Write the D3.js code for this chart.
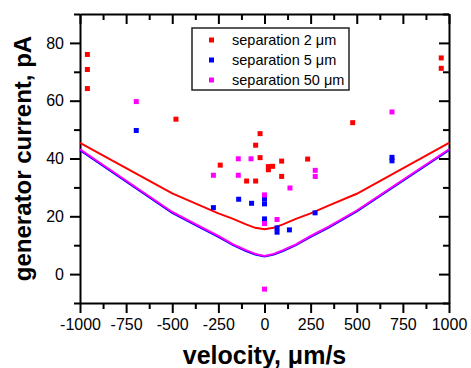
<!DOCTYPE html>
<html>
<head>
<meta charset="utf-8">
<script src="https://cdn.jsdelivr.net/npm/d3@7"></script>
<style>
  body { margin: 0; background: #fff; }
  svg { display: block; font-family: "Liberation Sans", Arial, sans-serif; }
  .axis path, .axis line { stroke: #000; stroke-width: 2px; }
  .axis text { font-size: 16px; fill: #000; }
</style>
</head>
<body>
<svg id="chart" width="471" height="368"></svg>
<script>
// scatter data: [velocity um/s, current pA]
const sep2 = [
  [-960, 76.0], [-960, 70.8], [-960, 64.2], [-480, 53.6], [-240, 37.7],
  [-97, 32.2], [-48, 44.6], [-48, 32.2], [-24, 48.6], [-24, 40.3],
  [21, 37.2], [21, 36.1], [44, 37.3], [93, 39.1], [93, 33.8],
  [234, 39.8], [478, 52.4], [958, 74.8], [958, 71.2]
];
const sep5 = [
  [-695, 49.7], [-277, 23.0], [-140, 25.9], [-70, 24.5], [0, 26.0],
  [0, 24.3], [0, 19.1], [68, 16.0], [68, 14.5], [135, 15.3],
  [274, 21.2], [691, 40.4], [691, 39.2]
];
const sep50 = [
  [-695, 59.7], [-277, 34.2], [-142, 39.9], [-142, 34.2], [-73, 39.9],
  [0, 27.4], [0, 17.5], [0, -5.2], [68, 18.9], [138, 29.8],
  [275, 35.9], [275, 33.8], [691, 56.1]
];

// model curves
const curveV = [-1000, -500, -350, -250, -170, -100, -50, 0, 50, 100, 170, 250, 350, 500, 1000];
const curve2 = [45.4, 27.9, 23.8, 21.0, 19.1, 17.2, 16.0, 15.5, 16.0, 17.2, 19.1, 21.0, 23.8, 27.8, 45.4];
const curve5 = [42.9, 21.2, 16.2, 12.9, 10.0, 8.0, 6.8, 6.1, 6.8, 8.0, 10.0, 12.9, 16.2, 21.7, 42.9];
const curve50 = [43.2, 21.5, 16.5, 13.2, 10.3, 8.3, 7.0, 6.3, 7.0, 8.3, 10.3, 13.2, 16.5, 22.0, 43.2];

const xMajor = [-1000, -750, -500, -250, 0, 250, 500, 750, 1000];
const xMinor = [-875, -625, -375, -125, 125, 375, 625, 875];
const yMajor = [0, 20, 40, 60, 80];
const yMinor = [-10, 10, 30, 50, 70, 90];

const legendItems = [
  { label: "separation 2 \u03bcm", color: "#ff0000" },
  { label: "separation 5 \u03bcm", color: "#0000ff" },
  { label: "separation 50 \u03bcm", color: "#ff00ff" }
];

const margin = { top: 14, right: 22, bottom: 65, left: 80 };
const width = 471, height = 368;
const w = width - margin.left - margin.right;
const h = height - margin.top - margin.bottom;

const svg = d3.select("#chart");
const g = svg.append("g").attr("transform", "translate(" + margin.left + "," + margin.top + ")");

const x = d3.scaleLinear().domain([-1000, 1000]).range([0, w]);
const y = d3.scaleLinear().domain([-10, 90]).range([h, 0]);

// axes: major + minor on all four sides, labels only bottom/left
function addAxis(axisFn, transform, major, minor, labels, inner) {
  const sign = inner ? -1 : 1;
  g.append("g").attr("class", "axis").attr("transform", transform)
    .call(axisFn(major === "x" ? x : y).tickValues(minor).tickSize(6 * sign).tickFormat(""))
    .call(a => a.select(".domain").remove());
  const ax = g.append("g").attr("class", "axis").attr("transform", transform)
    .call(axisFn(major === "x" ? x : y)
      .tickValues(major === "x" ? xMajor : yMajor)
      .tickSize(10 * sign).tickSizeOuter(0)
      .tickPadding(labels ? 6 : 0)
      .tickFormat(labels ? d3.format("d") : ""));
  ax.selectAll("text").text(d => labels ? String(d).replace("\u2212", "-") : "");
  return ax;
}
addAxis(d3.axisBottom, "translate(0," + h + ")", "x", xMinor, true, false);
addAxis(d3.axisTop, "translate(0,0)", "x", xMinor, false, true);
addAxis(d3.axisLeft, "translate(0,0)", "y", yMinor, true, false);
addAxis(d3.axisRight, "translate(" + w + ",0)", "y", yMinor, false, true);

// lines
const line = d3.line().x(d => x(d[0])).y(d => y(d[1]));
[[curve5, "#0000ff"], [curve50, "#ff00ff"], [curve2, "#ff0000"]].forEach(([vals, color]) => {
  g.append("path")
    .datum(curveV.map((v, i) => [v, vals[i]]))
    .attr("fill", "none")
    .attr("stroke", color)
    .attr("stroke-width", 2)
    .attr("d", line);
});

// points
const ms = 5;
[[sep2, "#ff0000"], [sep5, "#0000ff"], [sep50, "#ff00ff"]].forEach(([pts, color]) => {
  g.selectAll(null).data(pts).enter().append("rect")
    .attr("x", d => x(d[0]) - ms / 2)
    .attr("y", d => y(d[1]) - ms / 2)
    .attr("width", ms).attr("height", ms)
    .attr("fill", color);
});

// legend
const lg = svg.append("g").attr("transform", "translate(192,28)");
lg.append("rect").attr("width", 157).attr("height", 62)
  .attr("fill", "#fff").attr("stroke", "#222").attr("stroke-width", 1.5);
legendItems.forEach((d, i) => {
  const ly = 12 + i * 20;
  lg.append("rect").attr("x", 17).attr("y", ly - 2.5).attr("width", 5).attr("height", 5).attr("fill", d.color);
  lg.append("text").attr("x", 40).attr("y", ly).attr("dy", "0.35em")
    .style("font-size", "14.5px").text(d.label);
});

// axis titles
svg.append("text")
  .attr("x", margin.left + w / 2).attr("y", 364)
  .attr("text-anchor", "middle")
  .style("font-size", "25px").style("font-weight", "bold")
  .text("velocity, \u03bcm/s");

svg.append("text")
  .attr("transform", "translate(31," + (margin.top + h / 2) + ") rotate(-90)")
  .attr("text-anchor", "middle")
  .style("font-size", "24px").style("font-weight", "bold")
  .text("generator current, pA");
</script>
</body>
</html>
